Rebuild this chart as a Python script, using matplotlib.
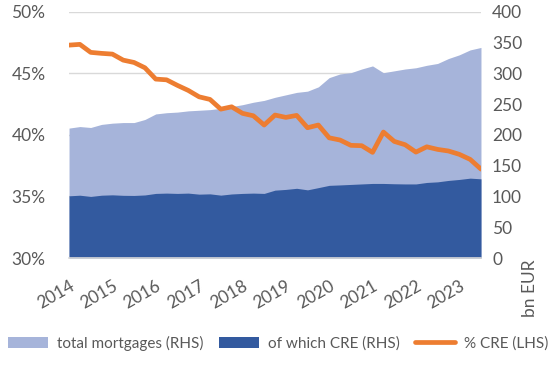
import matplotlib.pyplot as plt
import numpy as np

plt.rcParams['font.family'] = ['Lato', 'DejaVu Sans']

# quarterly, 2014Q1 .. 2023Q3
years = ['2014', '2015', '2016', '2017', '2018', '2019', '2020', '2021', '2022', '2023']

# total mortgages, bn EUR (RHS)
total_mortgages = [211, 213.5, 212, 217, 219, 220, 220, 225, 234, 236,
                   237, 239, 240, 241, 243, 246, 249, 253, 256, 261,
                   265, 269, 271, 278, 293, 299, 301, 307, 312, 301,
                   304, 307, 309, 313, 316, 324, 330, 338, 342]

# of which CRE, bn EUR (RHS)
cre = [101, 102, 100, 102, 102.6, 101.8, 101.6, 102.4, 104.9, 105.4,
       104.9, 105.4, 103.7, 104.2, 102.1, 104, 104.9, 105.4, 104.9, 110.2,
       111.4, 113.2, 110.7, 114.3, 118, 118.7, 119.5, 120.3, 121.1, 121.1,
       120.6, 120.3, 120.3, 122.7, 123.7, 126, 127.6, 129.7, 128.6]

# share of CRE, % (LHS)
pct_cre = [47.29, 47.35, 46.70, 46.62, 46.56, 46.07, 45.88, 45.45, 44.53, 44.47,
           44.02, 43.61, 43.09, 42.88, 42.09, 42.28, 41.75, 41.55, 40.80, 41.61,
           41.42, 41.58, 40.58, 40.80, 39.76, 39.58, 39.15, 39.12, 38.58, 40.23,
           39.47, 39.20, 38.60, 39.03, 38.82, 38.69, 38.42, 38.01, 37.22]

x = np.arange(len(pct_cre))

light = '#a6b4da'
dark = '#335a9f'
orange = '#ed7d31'
grey = '#595959'

fig = plt.figure(figsize=(5.5, 3.67), dpi=100)
ax = fig.add_axes([0.1255, 0.297, 0.749, 0.671])
ax2 = ax.twinx()

# areas on the right axis, kept below the line
ax2.fill_between(x, 0, total_mortgages, color=light, lw=0, label='total mortgages (RHS)', zorder=2)
ax2.fill_between(x, 0, cre, color=dark, lw=0, label='of which CRE (RHS)', zorder=3)
ax2.set_ylim(0, 400)
ax2.set_yticks([0, 50, 100, 150, 200, 250, 300, 350, 400])
for yy in [100, 200, 300, 400]:
    ax2.axhline(yy, color='#d9d9d9', lw=1, zorder=1)
ax2.axhline(0, color='#d9d9d9', lw=1.2, zorder=4, clip_on=False)

ax.plot(x, pct_cre, color=orange, lw=3.4, label='% CRE (LHS)', solid_joinstyle='round', solid_capstyle='round')
ax.set_ylim(30, 50)
ax.set_yticks([30, 35, 40, 45, 50])
ax.set_yticklabels([f'{v}%' for v in [30, 35, 40, 45, 50]])
ax.set_xlim(0, len(x) - 1)
ax.set_xticks(np.arange(0, len(x), 4))
ax.set_xticklabels(years, rotation=30, ha='right', rotation_mode='anchor')

ax.set_zorder(ax2.get_zorder() + 1)
ax.patch.set_visible(False)

for a in (ax, ax2):
    for s in a.spines.values():
        s.set_visible(False)
    a.tick_params(length=0, colors=grey, labelsize=12.5)
ax.tick_params(axis='y', pad=17)
ax.tick_params(axis='x', pad=14)
ax2.tick_params(axis='y', pad=8)

fig.text(0.963, 0.215, 'bn EUR', rotation=90, color=grey, fontsize=12.5, ha='center', va='center')

h1, l1 = ax2.get_legend_handles_labels()
h2, l2 = ax.get_legend_handles_labels()
fig.legend(h1 + h2, l1 + l2, loc='center', bbox_to_anchor=(0.506, 0.065), ncol=3, frameon=False,
           fontsize=11, labelcolor=grey, handlelength=2.6, handleheight=0.7,
           columnspacing=1.0, handletextpad=0.6)

fig.savefig('out.png', dpi=100)
